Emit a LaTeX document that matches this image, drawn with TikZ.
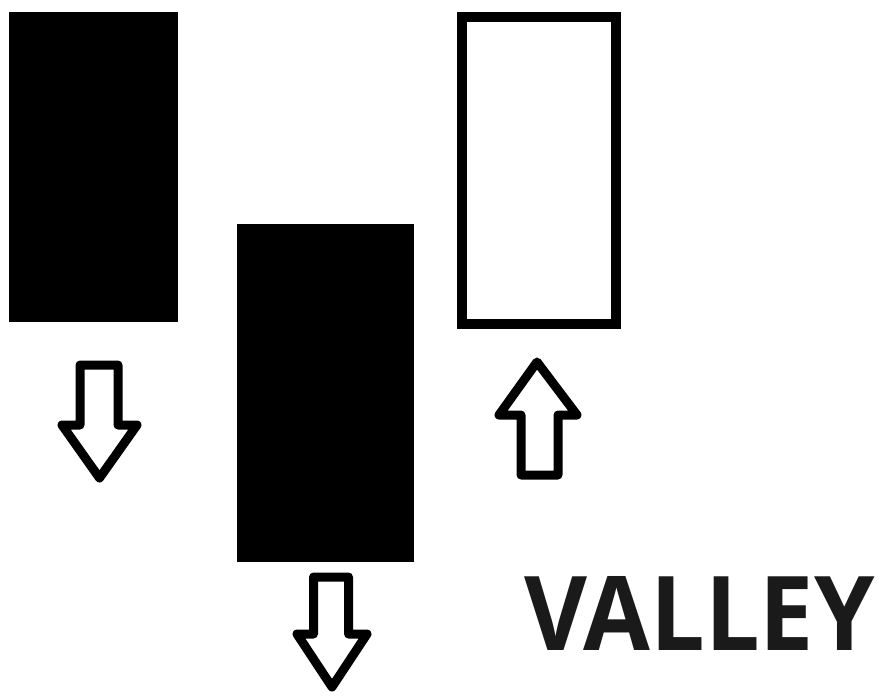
\documentclass[tikz,border=0pt]{standalone}
\usepackage{fontspec}
\newfontfamily\titlefont{Open Sans}
\definecolor{textgray}{HTML}{1A1A1A}
\tikzset{
  blackcandle/.style={fill=black},
  whitecandle/.style={draw=black, line width=6.8pt, fill=white},
  blockarrow/.style={draw=black, line width=6.4pt, line join=round, fill=white},
}
\begin{document}
\begin{tikzpicture}[x=0.025cm,y=-0.025cm]
  \useasboundingbox (0,0) rectangle (884,696);
  % 两根阴线
  \fill[blackcandle] (9,12) rectangle (178,322);
  \fill[blackcandle] (237,224) rectangle (414,562);
  % 阳线
  \draw[whitecandle] (462,17) rectangle (616,324);
  % 向下箭头
  \draw[blockarrow] (80,365) -- (118,365) -- (118,425) -- (137,425) -- (99.5,478) -- (62,425) -- (80,425) -- cycle;
  \draw[blockarrow] (313.5,577) -- (348.5,577) -- (348.5,634) -- (367,634) -- (332,687) -- (297,634) -- (313.5,634) -- cycle;
  % 向上箭头
  \draw[blockarrow] (521,475) -- (558,475) -- (558,415) -- (577,415) -- (537,362) -- (499,415) -- (521,415) -- cycle;
  % 标题
  \node[anchor=south west, inner sep=0pt, text=textgray] (title) at (524,651)
    {\resizebox{8.75cm}{1.85cm}{\titlefont\bfseries VALLEY}};
\end{tikzpicture}
\end{document}
